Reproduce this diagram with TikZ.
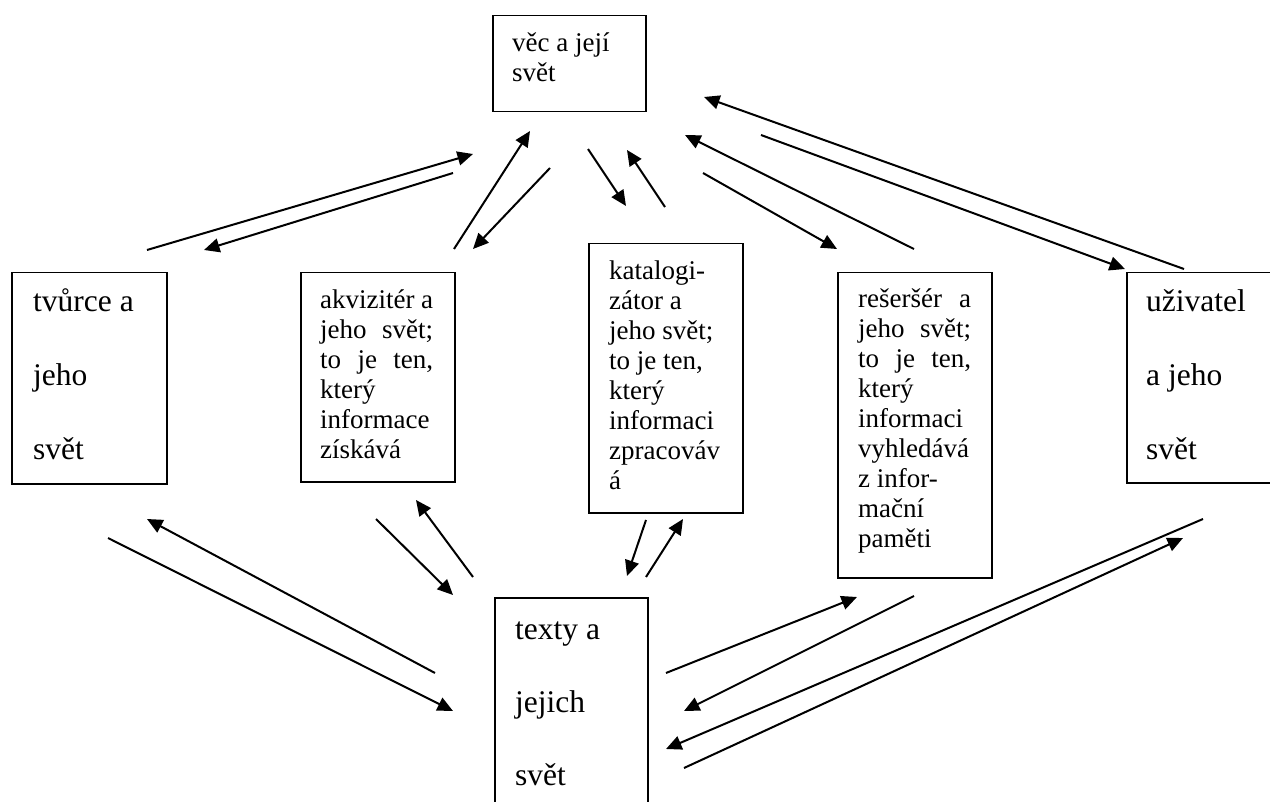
\documentclass[tikz,border=0pt]{standalone}
\usepackage{fontspec}
\setmainfont{Liberation Serif}
\usetikzlibrary{arrows.meta}
\newcommand{\smallfnt}{\fontsize{27}{30}\selectfont}
\newcommand{\bigfnt}{\fontsize{31.5}{74}\selectfont}
\newcommand{\jline}[1]{\leavevmode\hbox to\linewidth{#1}}
\begin{document}
\begin{tikzpicture}[x=1pt,y=-1pt,
  box/.style={draw, line width=1.5pt, anchor=north west, inner sep=0pt},
  txt/.style={anchor=base west, inner sep=0pt},
  arr/.style={line width=2pt, -{Triangle[length=15.5pt,width=14pt]}}]
\useasboundingbox (0,0) rectangle (1270,802);
\clip (0,0) rectangle (1270,802);

% boxes
\node[box, minimum width=153pt, minimum height=96pt] (vec) at (492,15) {};
\node[box, minimum width=155pt, minimum height=211pt] (tvurce) at (11,272) {};
\node[box, minimum width=154pt, minimum height=209pt] (akviz) at (300,272) {};
\node[box, minimum width=154pt, minimum height=269pt] (katal) at (588,243) {};
\node[box, minimum width=154pt, minimum height=305pt] (reser) at (837,272) {};
\node[box, minimum width=200pt, minimum height=210pt] (uziv) at (1126,272) {};
\node[box, minimum width=153pt, minimum height=260pt] (texty) at (494,597) {};

% texts
\node[txt] (vecT) at (512,52) {\parbox[t]{120pt}{\fontsize{27}{29.5}\selectfont\raggedright
  věc a její\\ svět}};
\node[txt] (tvurceT) at (33,312) {\parbox[t]{125pt}{\bigfnt\raggedright
  tvůrce a\\ jeho\\ svět}};
\node[txt] (akvizT) at (320,309) {\parbox[t]{113pt}{\smallfnt\raggedright
  akvizitér a\\ \jline{jeho\hfill svět;}\\ \jline{to\hfill je\hfill ten,}\\
  který\\ informace\\ získává}};
\node[txt] (katalT) at (609,280) {\parbox[t]{125pt}{\smallfnt\raggedright
  katalogi-\\ zátor a\\ jeho svět;\\ to je ten,\\ který\\ informaci\\ zpracováv\\ á}};
\node[txt] (reserT) at (858,308) {\parbox[t]{113pt}{\smallfnt\raggedright
  \jline{rešeršér\hfill a}\\ \jline{jeho\hfill svět;}\\ \jline{to\hfill je\hfill ten,}\\
  který\\ informaci\\ vyhledává\\ z infor-\\ mační\\ paměti}};
\node[txt] (uzivT) at (1146,312) {\parbox[t]{120pt}{\bigfnt\raggedright
  uživatel\\ a jeho\\ svět}};
\node[txt] (textyT) at (515,639) {\parbox[t]{125pt}{\fontsize{31.5}{73}\selectfont\raggedright
  texty a\\ jejich\\ svět}};

% arrow end points
\coordinate (a1s) at (147,250);  \coordinate (a1e) at (473,154);
\coordinate (a2s) at (453,173);  \coordinate (a2e) at (204,250);
\coordinate (a3s) at (454,249);  \coordinate (a3e) at (530,131);
\coordinate (a4s) at (550,168);  \coordinate (a4e) at (473,249);
\coordinate (a5s) at (588,149);  \coordinate (a5e) at (626,206);
\coordinate (a6s) at (665,207);  \coordinate (a6e) at (627,150);
\coordinate (a7s) at (703,173);  \coordinate (a7e) at (837,249);
\coordinate (a8s) at (914,249);  \coordinate (a8e) at (685,135);
\coordinate (a9s) at (761,135);  \coordinate (a9e) at (1125,269);
\coordinate (a10s) at (1184,269); \coordinate (a10e) at (704,97);
\coordinate (a11s) at (435,673); \coordinate (a11e) at (147,519);
\coordinate (a12s) at (108,538); \coordinate (a12e) at (453,711);
\coordinate (a13s) at (376,519); \coordinate (a13e) at (453,595);
\coordinate (a14s) at (473,577); \coordinate (a14e) at (416,500);
\coordinate (a15s) at (646,520); \coordinate (a15e) at (627,576);
\coordinate (a16s) at (646,577); \coordinate (a16e) at (683,519);
\coordinate (a17s) at (666,673); \coordinate (a17e) at (857,597);
\coordinate (a18s) at (914,596); \coordinate (a18e) at (684,711);
\coordinate (a19s) at (1203,519); \coordinate (a19e) at (666,749);
\coordinate (a20s) at (684,768); \coordinate (a20e) at (1183,538);

% arrows
\foreach \i in {1,...,20} {\draw[arr] (a\i s) -- (a\i e);}
\end{tikzpicture}
\end{document}
